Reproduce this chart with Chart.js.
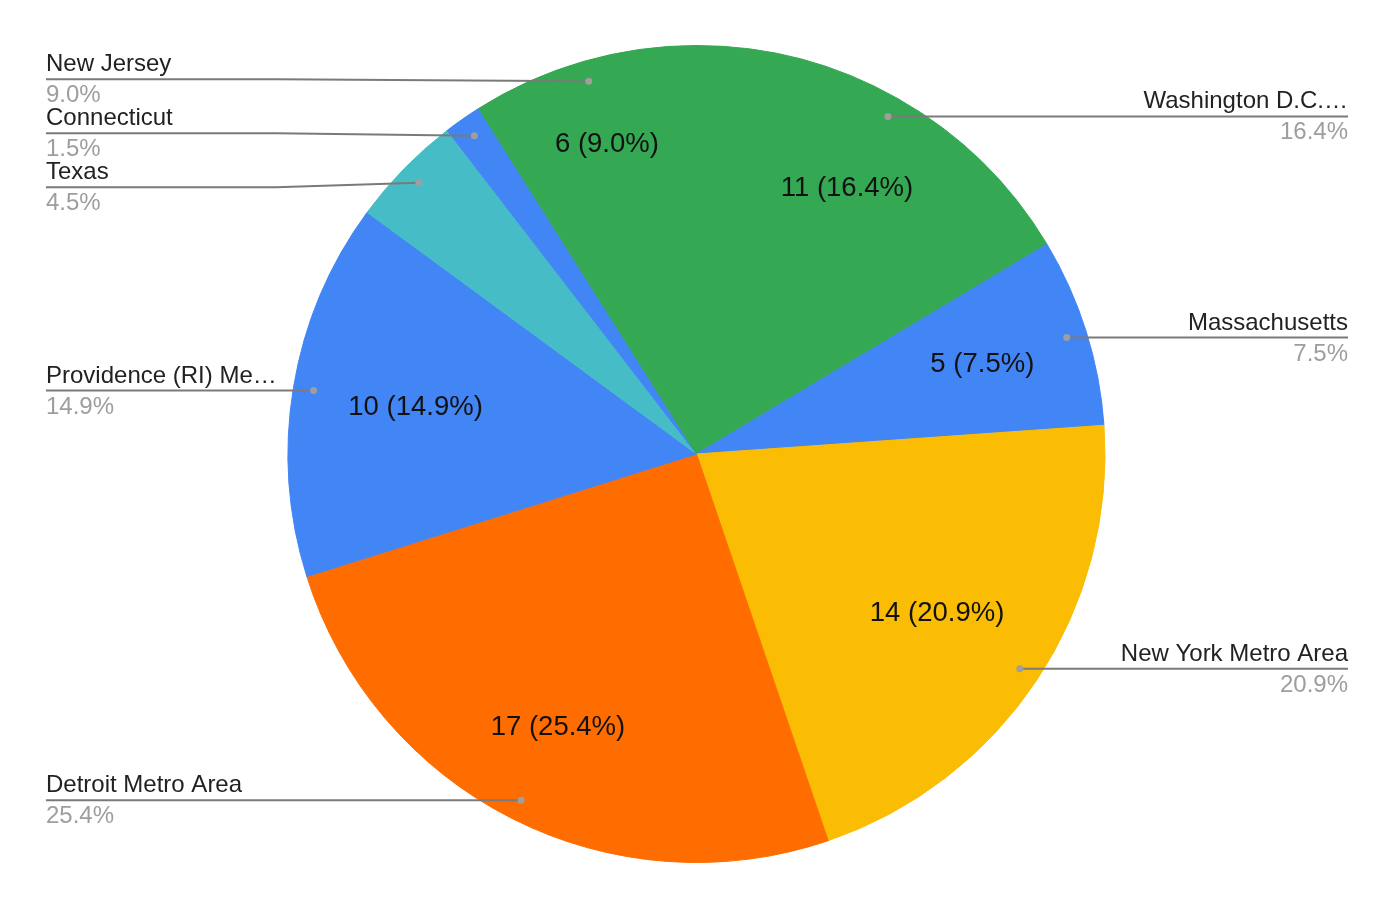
<!DOCTYPE html>
<html>
<head>
<meta charset="utf-8">
<script src="https://cdn.jsdelivr.net/npm/chart.js@4.4.1/dist/chart.umd.min.js"></script>
<style>
  html, body { margin: 0; padding: 0; background: #fff; }
  #wrap { width: 1393px; height: 908px; position: relative; }
</style>
</head>
<body>
<div id="wrap"><canvas id="pie-chart"></canvas></div>
<script>
// Slices, clockwise from 12 o'clock
const categories = [
  "Washington D.C.…",
  "Massachusetts",
  "New York Metro Area",
  "Detroit Metro Area",
  "Providence (RI) Me…",
  "Texas",
  "Connecticut",
  "New Jersey"
];
const values = [11, 5, 14, 17, 10, 3, 1, 6];
const sliceColors = [
  "#34A853", "#4285F4", "#FBBC04", "#FF6D01",
  "#4285F4", "#46BDC6", "#4285F4", "#34A853"
];

const total = values.reduce((a, b) => a + b, 0);
const pct = v => (v / total * 100).toFixed(1) + "%";

const FONT = "'Liberation Sans', Arial, sans-serif";
const SIDE_MARGIN = 46;
const LABEL_GAP = 54;
const INNER_FONT = 27.5;

// spreads labels on one side so they don't overlap
function spreadLabels(items) {
  items.sort((a, b) => a.ay - b.ay);
  items.forEach(it => it.ly = it.ay);
  for (let n = 0; n < 100; n++) {
    let moved = false;
    for (let i = 1; i < items.length; i++) {
      const d = items[i].ly - items[i - 1].ly;
      if (d < LABEL_GAP - 0.01) {
        const push = (LABEL_GAP - d) / 2;
        items[i].ly += push;
        items[i - 1].ly -= push;
        moved = true;
      }
    }
    if (!moved) break;
  }
}

const pieLabels = {
  id: "pieLabels",
  afterDatasetsDraw(chart) {
    const ctx = chart.ctx;
    const arcs = chart.getDatasetMeta(0).data;
    const left = [], right = [];

    arcs.forEach((arc, i) => {
      const p = arc.getProps(["x", "y", "startAngle", "endAngle", "outerRadius"], true);
      const mid = (p.startAngle + p.endAngle) / 2;
      const r = p.outerRadius;
      const ux = Math.cos(mid), uy = Math.sin(mid);

      // value label inside the slice, outer corner of its box kept at ~0.865r
      if (values[i] / total >= 0.05) {
        const text = `${values[i]} (${pct(values[i])})`;
        ctx.save();
        ctx.font = `${INNER_FONT}px ${FONT}`;
        const ax = Math.sign(ux) * ctx.measureText(text).width / 2;
        const ay = Math.sign(uy) * INNER_FONT / 2;
        const R = r * 0.865;
        const ua = ux * ax + uy * ay;
        const t = -ua + Math.sqrt(ua * ua - (ax * ax + ay * ay) + R * R);
        ctx.fillStyle = "#111";
        ctx.textAlign = "center";
        ctx.textBaseline = "middle";
        ctx.fillText(text, p.x + ux * t, p.y + uy * t);
        ctx.restore();
      }

      const item = {
        i,
        ax: p.x + ux * r * 0.95,
        ay: p.y + uy * r * 0.95
      };
      (ux < 0 ? left : right).push(item);
    });

    spreadLabels(left);
    spreadLabels(right);

    const w = chart.width;
    const draw = (it, isLeft) => {
      const tx = isLeft ? SIDE_MARGIN : w - SIDE_MARGIN + 1;
      const bendX = isLeft ? tx + 230 : tx - 230;

      ctx.save();
      ctx.strokeStyle = "#7a7a7a";
      ctx.lineWidth = 2;
      ctx.beginPath();
      ctx.moveTo(tx, it.ly);
      ctx.lineTo(bendX, it.ly);
      ctx.lineTo(it.ax, it.ay);
      ctx.stroke();

      ctx.fillStyle = "#9e9e9e";
      ctx.beginPath();
      ctx.arc(it.ax, it.ay, 3.5, 0, Math.PI * 2);
      ctx.fill();

      ctx.textAlign = isLeft ? "left" : "right";
      ctx.textBaseline = "alphabetic";
      ctx.font = `24px ${FONT}`;
      ctx.fillStyle = "#222";
      ctx.fillText(categories[it.i], tx, it.ly - 8);
      ctx.fillStyle = "#9e9e9e";
      ctx.fillText(pct(values[it.i]), tx, it.ly + 23);
      ctx.restore();
    };
    left.forEach(it => draw(it, true));
    right.forEach(it => draw(it, false));
  }
};

new Chart(document.getElementById("pie-chart"), {
  type: "pie",
  data: {
    labels: categories,
    datasets: [{
      data: values,
      backgroundColor: sliceColors,
      borderColor: sliceColors,   // hides the hairline seam between same-colour slices
      borderWidth: 1,
      hoverOffset: 0
    }]
  },
  options: {
    responsive: true,
    maintainAspectRatio: false,
    animation: false,
    layout: { padding: { top: 45, bottom: 45 } },
    plugins: {
      legend: { display: false },
      tooltip: { enabled: false }
    }
  },
  plugins: [pieLabels]
});
</script>
</body>
</html>
